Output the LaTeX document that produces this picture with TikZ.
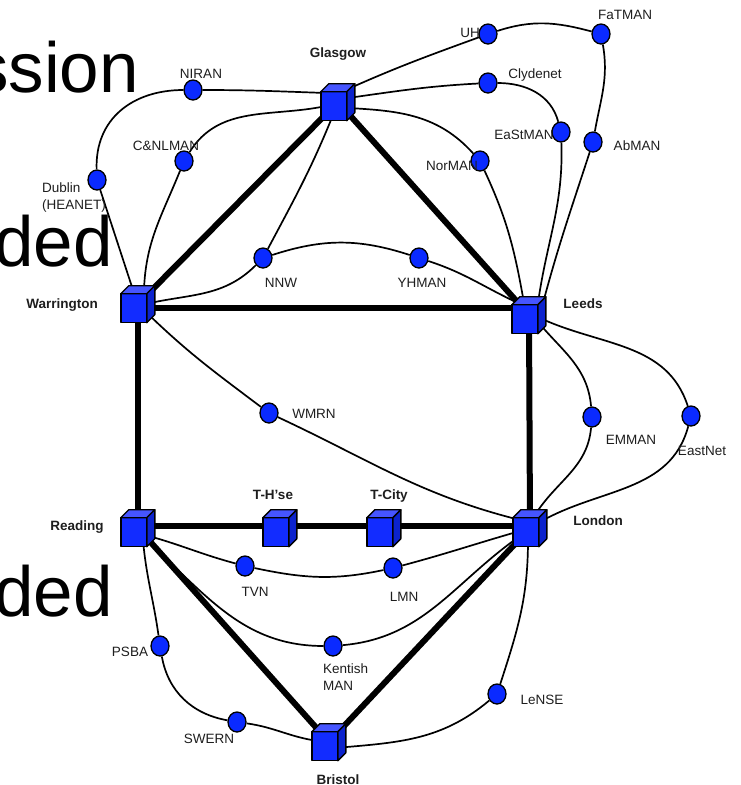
\documentclass[tikz,border=0pt]{standalone}
\usepackage{fontspec}
\setmainfont{Liberation Sans}
\usetikzlibrary{shapes.geometric}
\pgfdeclarelayer{bg}
\pgfsetlayers{bg,main}
\definecolor{cfront}{RGB}{18,44,255}
\definecolor{ctop}{RGB}{70,85,255}
\definecolor{cside}{RGB}{12,35,205}
\definecolor{cnode}{RGB}{10,42,255}
\definecolor{ctext}{RGB}{30,30,30}
\begin{document}
\begin{tikzpicture}[x=1pt,y=1pt,
  cube/.style={rectangle, minimum width=34pt, minimum height=37pt, inner sep=0pt},
  dot/.style={ellipse, draw, fill=cnode, line width=1.3pt, minimum width=18pt, minimum height=20pt, inner sep=0pt},
  lab/.style={font=\fontsize{13.5}{17}\selectfont, text=ctext, inner sep=0pt},
  blab/.style={font=\fontsize{13.5}{17}\selectfont\bfseries, text=ctext, inner sep=0pt},
  big/.style={font=\fontsize{71}{80}\selectfont, inner sep=0pt, anchor=base east},
  link/.style={line width=1.7pt},
  trunk/.style={line width=6pt},
  face/.style={draw=black, line width=1.4pt, line join=round}
]
\useasboundingbox (0,0) rectangle (740,-785);
\begin{pgfonlayer}{bg}
\fill[white] (0,0) rectangle (740,-785);
\end{pgfonlayer}

% background slide text
\node[big] (t1) at (139,-92) {ssion};
\node[big] (t2) at (113,-266) {ded};
\node[big] (t3) at (113,-616) {ded};

% cubes
\node[cube] (gla) at (338,-102) {};
\node[cube] (war) at (138,-304) {};
\node[cube] (lee) at (529,-315) {};
\node[cube] (rea) at (138,-528) {};
\node[cube] (ths) at (280,-528) {};
\node[cube] (tci) at (384,-528) {};
\node[cube] (lon) at (530,-528) {};
\node[cube] (bri) at (329,-742) {};

% regional networks
\node[dot] (nir) at (193,-90) {};
\node[dot] (cnl) at (184,-161) {};
\node[dot] (dub) at (97,-180) {};
\node[dot] (uh) at (488,-34) {};
\node[dot] (fat) at (601,-34) {};
\node[dot] (cly) at (488,-83) {};
\node[dot] (est) at (561,-132) {};
\node[dot] (abm) at (593,-142) {};
\node[dot] (nor) at (480,-161) {};
\node[dot] (nnw) at (263,-258) {};
\node[dot] (yhm) at (419,-258) {};
\node[dot] (wmr) at (269,-413) {};
\node[dot] (emm) at (592,-417) {};
\node[dot] (ean) at (691,-416) {};
\node[dot] (tvn) at (245,-566) {};
\node[dot] (lmn) at (393,-568) {};
\node[dot] (psb) at (160,-646) {};
\node[dot] (ken) at (333,-646) {};
\node[dot] (swe) at (237,-722) {};
\node[dot] (len) at (497,-694) {};

% labels
\node[blab] (lgla) at (338,-54) {Glasgow};
\node[blab] (lwar) at (62,-305) {Warrington};
\node[blab] (llee) at (583,-304) {Leeds};
\node[blab] (lrea) at (77,-527) {Reading};
\node[blab] (llon) at (598,-521) {London};
\node[blab] (lths) at (273,-495) {T-H’se};
\node[blab] (ltci) at (389,-496) {T-City};
\node[blab] (lbri) at (338,-780) {Bristol};
\node[lab] (lnir) at (201,-74) {NIRAN};
\node[lab] (lcnl) at (166,-146) {C\&NLMAN};
\node[lab, align=left, anchor=west] (ldub) at (42,-197.5) {Dublin\\(HEANET)};
\node[lab] (luh) at (470,-33) {UH};
\node[lab] (lfat) at (625,-15) {FaTMAN};
\node[lab] (lcly) at (535,-75) {Clydenet};
\node[lab] (lest) at (524,-135) {EaStMAN};
\node[lab] (labm) at (637,-146) {AbMAN};
\node[lab] (lnor) at (452,-166) {NorMAN};
\node[lab] (lnnw) at (281,-283) {NNW};
\node[lab] (lyhm) at (422,-283) {YHMAN};
\node[lab] (lwmr) at (314,-414) {WMRN};
\node[lab] (lemm) at (631,-440) {EMMAN};
\node[lab] (lean) at (702,-451) {EastNet};
\node[lab] (ltvn) at (255,-592) {TVN};
\node[lab] (llmn) at (404,-597) {LMN};
\node[lab] (lpsb) at (130,-652) {PSBA};
\node[lab, align=left, anchor=west] (lken) at (323,-677.5) {Kentish\\MAN};
\node[lab] (lswe) at (209,-739) {SWERN};
\node[lab] (llen) at (542,-700) {LeNSE};

\begin{pgfonlayer}{bg}
% trunk links
\draw[trunk] (gla.center) -- (war.center);
\draw[trunk] (gla.center) -- (lee.center);
\draw[trunk] ([yshift=-4]war.center) -- ([yshift=7]lee.center);
\draw[trunk] (war.center) -- (rea.center);
\draw[trunk] (lee.center) -- (lon.center);
\draw[trunk] ([yshift=2]rea.center) -- ([yshift=2]ths.center) -- ([yshift=2]tci.center) -- ([yshift=2]lon.center);
\draw[trunk] (rea.center) -- (bri.center);
\draw[trunk] (lon.center) -- (bri.center);

% access links
\draw[link] ([shift={(-5,14)}]war.center) -- (dub);
\draw[link] (dub) to[out=92,in=180,looseness=1.1] (nir);
\draw[link] (nir) to[out=0,in=178] ([shift={(-12,9)}]gla.center);

\draw[link] ([shift={(6,14)}]war.center) to[out=88,in=-112] (cnl);
\draw[link] (cnl) to[out=58,in=192] ([shift={(-12,-4)}]gla.center);

\draw[link] ([shift={(12,1)}]war.center) to[out=12,in=-135] (nnw);
\draw[link] (nnw) to[out=62,in=-112] ([shift={(-5,-13)}]gla.center);
\draw[link] (nnw) to[out=18,in=162] (yhm);
\draw[link] (yhm) to[out=-18,in=155] ([shift={(-11,12)}]lee.center);

\draw[link] ([shift={(10,4)}]gla.center) to[out=8,in=183] (cly);
\draw[link] (cly) to[out=0,in=105] (est);
\draw[link] (est) to[out=-88,in=82] ([shift={(9,12)}]lee.center);

\draw[link] ([shift={(10,13)}]gla.center) to[out=24,in=200] (uh);
\draw[link] (uh) to[out=18,in=165] (fat);
\draw[link] (fat) to[out=-80,in=80] (abm);
\draw[link] (abm) to[out=-108,in=75] ([shift={(14,12)}]lee.center);

\draw[link] ([shift={(10,-6)}]gla.center) to[out=-3,in=132] (nor);
\draw[link] (nor) to[out=-65,in=100] ([shift={(-5,12)}]lee.center);

\draw[link] ([shift={(10,-10)}]war.center) to[out=-44,in=143] (wmr);
\draw[link] (wmr) to[out=-25,in=166] ([shift={(-10,8)}]lon.center);

\draw[link] ([shift={(9,-7)}]lee.center) to[out=-50,in=95] (emm);
\draw[link] (emm) to[out=-95,in=58] ([shift={(5,13)}]lon.center);
\draw[link] ([shift={(11,-3)}]lee.center) to[out=-25,in=108] (ean);
\draw[link] (ean) to[out=-105,in=30] ([shift={(10,6)}]lon.center);

\draw[link] ([shift={(7,-7)}]rea.center) to[out=-15,in=165] (tvn);
\draw[link] (tvn) to[out=-12,in=192] (lmn);
\draw[link] (lmn) to[out=15,in=196] ([shift={(-10,-3)}]lon.center);

\draw[link] ([shift={(8,-12)}]rea.center) to[out=-42,in=180] (ken);
\draw[link] (ken) to[out=5,in=215] ([shift={(-10,-8)}]lon.center);

\draw[link] ([shift={(5,-12)}]rea.center) to[out=-85,in=98] (psb);
\draw[link] (psb) to[out=-80,in=170] (swe);
\draw[link] (swe) to[out=-8,in=172] ([shift={(-11,1)}]bri.center);

\draw[link] ([shift={(-2,-12)}]lon.center) to[out=-90,in=72] (len);
\draw[link] (len) to[out=-140,in=5] ([shift={(6,-6)}]bri.center);
\end{pgfonlayer}

% cube faces
\foreach \n in {gla,war,lee,rea,ths,tci,lon,bri}{
  \filldraw[face, fill=cfront] (\n.south west) rectangle ++(26,29);
  \filldraw[face, fill=ctop] ([yshift=29]\n.south west) -- ++(8,8) -- ++(26,0) -- ++(-8,-8) -- cycle;
  \filldraw[face, fill=cside] ([xshift=26]\n.south west) -- ++(8,8) -- ++(0,29) -- ++(-8,-8) -- cycle;
}
\end{tikzpicture}
\end{document}
